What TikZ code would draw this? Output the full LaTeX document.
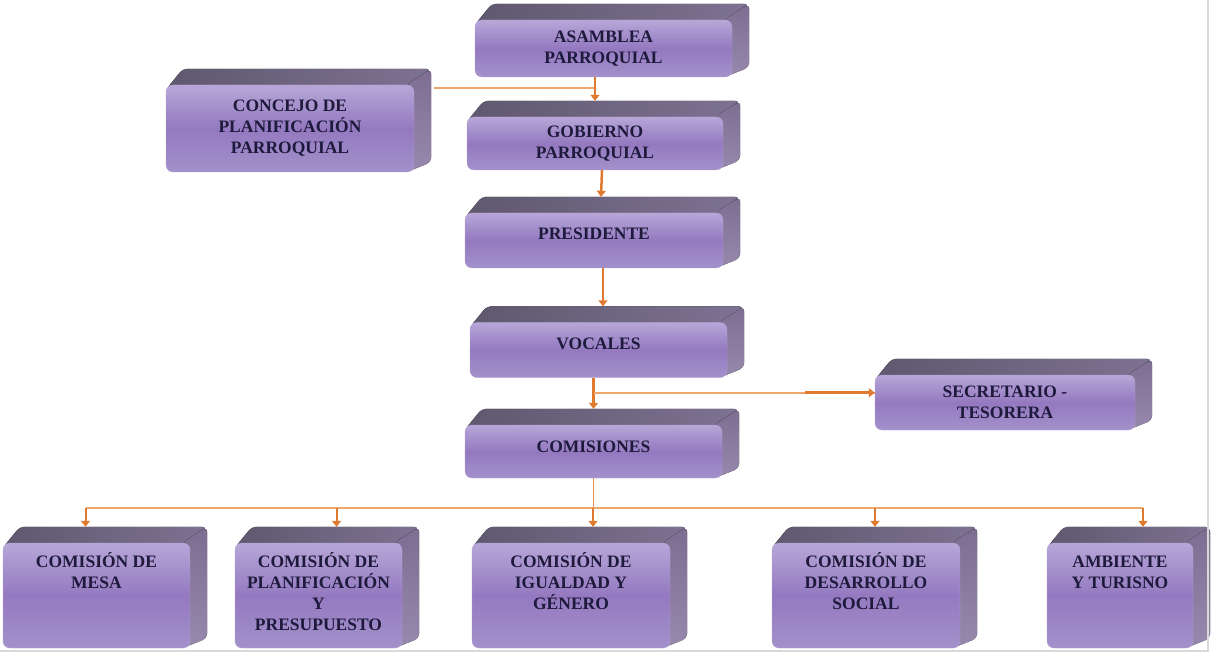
\documentclass[tikz,border=0pt]{standalone}
\usepackage{fontspec}
\setmainfont{Liberation Serif}
\usepackage{tikz}
\usetikzlibrary{arrows.meta,backgrounds}

\definecolor{caraluz}{HTML}{B7A7D8}
\definecolor{caramedia}{HTML}{9479C0}
\definecolor{carabaja}{HTML}{A391CB}
\definecolor{techo}{HTML}{5F586E}
\definecolor{techoluz}{HTML}{7D7292}
\definecolor{lado}{HTML}{7C6D91}
\definecolor{ladoluz}{HTML}{9788AD}
\definecolor{letra}{HTML}{1E1A3C}
\definecolor{naranja}{HTML}{E07A2F}
\definecolor{naranjaclaro}{HTML}{EDA66B}

\tikzset{
  caja/.style={rectangle, rounded corners=7pt, draw=caramedia!70, top color=caraluz,
    bottom color=carabaja, middle color=caramedia, text=letra, align=center, inner sep=2pt,
    font=\fontsize{17.5}{21}\selectfont\bfseries},
  flecha/.style={draw=naranja, line width=2.5pt, -{Triangle[length=6pt,width=9pt]}},
  linea/.style={draw=naranjaclaro, line width=1.6pt},
}
\newcommand{\abajo}[2][140pt]{\parbox[c][86pt][t]{#1}{\centering #2}}

\begin{document}
\begin{tikzpicture}[x=1pt,y=-1pt]
\useasboundingbox (0,0) rectangle (1213,652);

% cajas de la columna central
\node[caja, minimum width=257pt, minimum height=57pt] (asamblea) at (603.5,48.5) {ASAMBLEA\\PARROQUIAL};
\node[caja, minimum width=248pt, minimum height=87pt] (concejo) at (290,128.5) {CONCEJO DE\\PLANIFICACIÓN\\PARROQUIAL};
\node[caja, minimum width=256pt, minimum height=53pt] (gobierno) at (595,143.5) {GOBIERNO\\PARROQUIAL};
\node[caja, minimum width=258pt, minimum height=55pt, text depth=14pt] (presidente) at (594,240.5) {PRESIDENTE};
\node[caja, minimum width=257pt, minimum height=55pt, text depth=12pt] (vocales) at (598.5,350) {VOCALES};
\node[caja, minimum width=257pt, minimum height=53pt, text depth=10pt] (comisiones) at (593.5,451.5) {COMISIONES};
\node[caja, minimum width=260pt, minimum height=55pt] (secretario) at (1005,402.5) {SECRETARIO -\\TESORERA};

% comisiones de abajo
\node[caja, minimum width=187pt, minimum height=105pt] (mesa) at (96.5,595.5) {\abajo{COMISIÓN DE\\MESA}};
\node[caja, minimum width=167pt, minimum height=105pt] (planif) at (318.5,595.5) {\abajo[160pt]{COMISIÓN DE\\PLANIFICACIÓN\\Y\\PRESUPUESTO}};
\node[caja, minimum width=198pt, minimum height=105pt] (igualdad) at (571,595.5) {\abajo{COMISIÓN DE\\IGUALDAD Y\\GÉNERO}};
\node[caja, minimum width=188pt, minimum height=105pt] (desarrollo) at (866,595.5) {\abajo{COMISIÓN DE\\DESARROLLO\\SOCIAL}};
\node[caja, minimum width=146pt, minimum height=105pt] (ambiente) at (1120,595.5) {\abajo[138pt]{\vphantom{Ó}AMBIENTE\\Y TURISNO}};

% caras de arriba y del lado
\foreach \n in {asamblea,concejo,gobierno,presidente,vocales,comisiones,secretario,mesa,planif,igualdad,desarrollo,ambiente}
  \coordinate (\n-top) at ([yshift=16pt]\n.north);
\begin{scope}[on background layer]
\foreach \n in {asamblea,concejo,gobierno,presidente,vocales,comisiones,secretario,mesa,planif,igualdad,desarrollo,ambiente}
{
  \fill[left color=techo, right color=techoluz, rounded corners=5pt]
    ([yshift=-5pt]\n.north west) -- ([shift={(17pt,16pt)}]\n.north west)
    -- ([shift={(17pt,16pt)}]\n.north east) -- ([yshift=-5pt]\n.north east) -- cycle;
  \fill[top color=lado, bottom color=ladoluz, rounded corners=5pt]
    ([xshift=-8pt]\n.north east) -- ([shift={(17pt,16pt)}]\n.north east)
    -- ([shift={(17pt,10pt)}]\n.south east) -- ([xshift=-8pt]\n.south east) -- cycle;
}
\end{scope}

% conectores
\coordinate (c1) at ([shift={(20pt,-3pt)}]concejo.north east);
\draw[linea] (c1) -- (gobierno.north |- c1);
\draw[flecha] (gobierno.north |- asamblea.south) -- (gobierno-top);
\draw[flecha] ([xshift=7pt]gobierno.south) -- ([xshift=7pt]presidente-top);
\draw[flecha] ([xshift=9pt]presidente.south) -- ([xshift=4.5pt]vocales-top);
\draw[flecha] (comisiones-top |- vocales.south) -- (comisiones-top);

\coordinate (v1) at ([yshift=-15pt]vocales.south);
\coordinate (j2) at (v1 -| comisiones.north);
\coordinate (s1) at (j2 -| secretario.west);
\draw[linea] (j2) -- (s1);
\draw[flecha] ([xshift=-70pt]s1) -- (s1);

\coordinate (bus) at ([yshift=19pt]igualdad-top);
\coordinate (b1) at (mesa-top |- bus);
\coordinate (b5) at (ambiente-top |- bus);
\draw[linea, draw=naranja!80] (comisiones.south) -- (comisiones.south |- bus);
\draw[linea] ([xshift=-11pt]b1) -- ([xshift=23pt]b5);
\foreach \n/\dx in {mesa/-11,planif/18,igualdad/22,desarrollo/9,ambiente/23}
  \draw[flecha, line width=2pt] ([shift={(\dx pt,19pt)}]\n-top) -- ([xshift=\dx pt]\n-top);

% borde gris
\draw[black!15, line width=1.5pt] (1208,0) -- (1208,651) -- (0,651);
\end{tikzpicture}
\end{document}
